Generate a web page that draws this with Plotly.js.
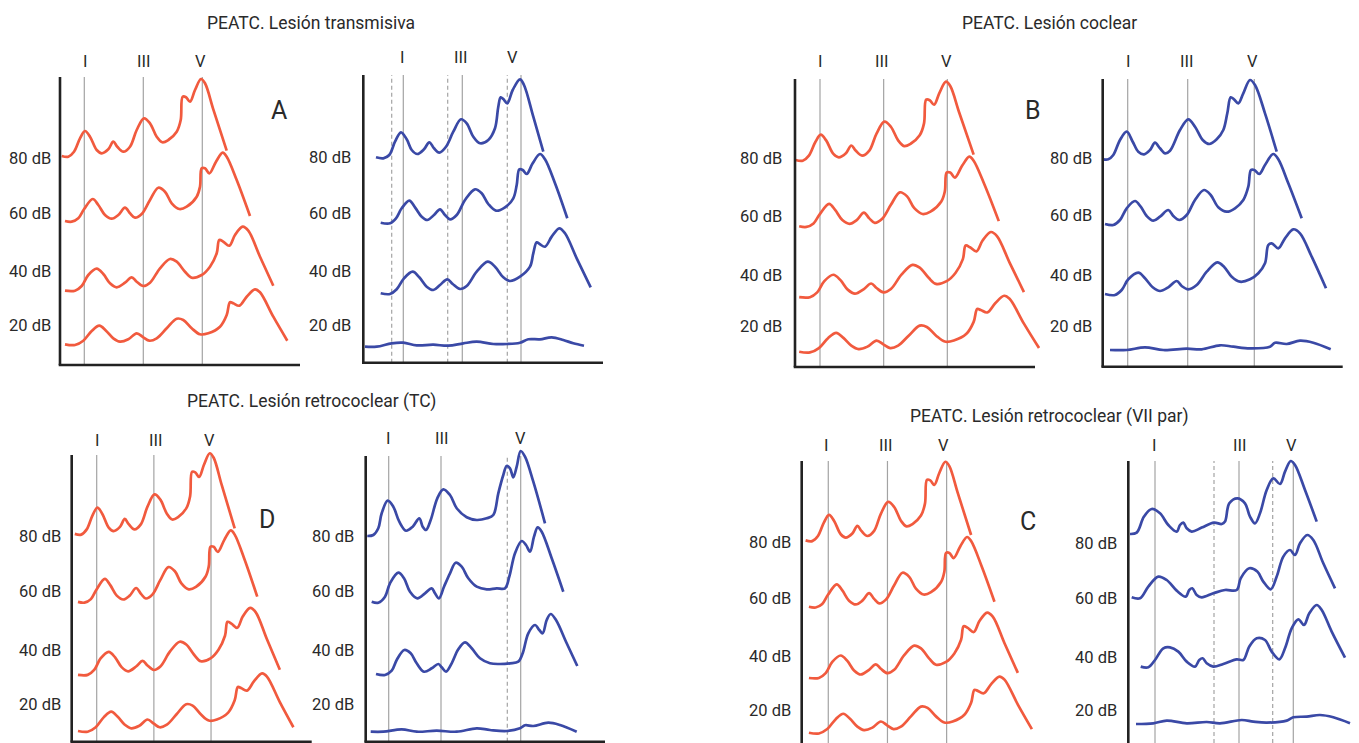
<!DOCTYPE html>
<html>
<head>
<meta charset="utf-8">
<script src="https://cdn.plot.ly/plotly-3.0.1.min.js"></script>
<style>html,body{margin:0;padding:0;background:#fff;}#chart{width:1359px;height:743px;}</style>
</head>
<body>
<div id="chart"></div>
<script>
// ---------- DATA (latency units on x, amplitude + offset units on y) ----------
const titles = ['PEATC. Lesión transmisiva', 'PEATC. Lesión coclear', 'PEATC. Lesión retrococlear (TC)', 'PEATC. Lesión retrococlear (VII par)'];
const panelLetters = ['A', 'B', 'D', 'C'];
const waveLabels = ['I', 'III', 'V'];
const dbLabels = ['80 dB', '60 dB', '40 dB', '20 dB'];

// Normal ear (red), same in every panel
const normX80 = [1.7,8.3,14,20,25,30,36.7,41.7,48.3,53.3,57.3,63.3,70,76.7,84,90,96.7,102.3,108.3,116.7,120.7,122.7,126,130,135,141,145,153.3,166.7];
const normY80 = [209,208.3,213.3,226.7,234,228.3,215,211.7,215.7,223.3,218.3,213.3,218.3,235,246.7,241.7,228.3,222.7,225,233.3,245,268.3,267.7,263.3,275,286,281.7,255.7,214.3];
const normX60 = [5,11.7,18.3,24,32.7,38.3,45,51.7,58.3,65,70,75,81.7,90,98.3,105,111.7,119.3,126.7,136.7,140,141.7,145,149.3,156,162.7,166.7,176.7,190];
const normY60 = [144,143.3,146.7,155.7,166,160,150,146.3,150,157.3,151.7,147.3,151,165,177.3,173.3,161.7,156,158.3,168.3,178.3,196.7,196.7,191.7,203.3,212.3,208.3,185,149];
const normX40 = [5,15,21.7,28.3,36.7,43.3,50,56.7,65,71.7,76.7,83.3,90,100,110,116.7,125,131.7,141.7,150,156.7,159.3,163.3,169.3,175,182.7,188.3,200,213.3];
const normY40 = [74.3,74.3,79,90,96.3,91,81.7,77.7,82.3,87.7,83.3,79,82.3,96.7,106,103.3,93.3,87.3,90,98.3,111.7,125,123.3,119.3,130,138.3,134.3,108.3,79.3];
const normX20 = [5,15,23.3,31.7,39.3,46,53.3,60,68.3,76.7,83.3,89.3,96.7,106.7,116.7,123.3,131.7,140,148.3,160,166.7,170,173.3,179.3,186.7,195,200,213.3,227.3];
const normY20 = [20.7,20,24.3,34,39.3,34.3,26.7,23.3,25.7,31.7,27.7,24.3,26.7,36.7,46.3,45,36.7,30.7,31.7,38.3,50,62.7,61.7,59.3,68.3,75.7,72.7,48.3,24.3];
const normLat = [24.3, 83.3, 142.3];

// A: transmisiva (blue)
const transX80 = [12.7,20,26,31.7,37.7,43.4,48.4,54,60.7,66,70.7,76,82.7,90,97.7,103.4,110,116.7,125,131.7,135,137.4,140,144,149.4,156.7,160.7,170,180];
const transY80 = [205.4,204.4,207.7,221,230.4,223.4,212.7,208.7,213.4,220.4,214.4,210,216,231,243.4,239.4,226,219.4,222.7,234.4,256,265.4,263.7,259.4,272.7,283.4,277.7,246,211];
const transX60 = [17.4,26.7,32.7,38.4,46,51.7,58.4,64,70.7,76.7,81.7,86.7,93.4,101.7,111.7,118.4,125,132.7,141.7,150,153.4,156,159.4,163.4,169.4,176.7,181.7,191.7,204];
const transY60 = [140,139.4,144.4,154.4,162,155.4,146,142.7,147.7,153.4,147.7,143.4,147.7,162.7,173.4,169.4,158.7,152,155.4,164.4,177.7,193.4,192.7,188.7,199.4,208.7,203.4,179.4,144.4];
const transX40 = [17.4,26.7,33.4,40.7,49.4,56,63.4,70,76.7,84,89.4,96.7,103.4,113.4,124.4,131.7,140,146.7,156.7,166.7,170,173.4,176.7,181.7,188.4,196,201.7,213.4,227.4];
const transY40 = [69.4,68.7,73.4,84.4,91,85.4,76,72.7,77.7,83.4,78.7,73.7,76.7,91,101,96,85.4,81.7,86,96,109.4,120.4,118.4,116,126,134.4,129.4,104.4,75.4];
const transX20 = [1.7,13.4,28.4,40,53.4,70,85,100,113.4,130,143.4,156.7,165,176.7,188.4,200,210,220.7];
const transY20 = [16,16,19.4,20,17.4,18,17,19.4,21,18.7,18.7,20,23.4,23.4,25.4,22.7,19.4,17];
const transLat = [40, 99, 157.7];
const transRef = [28.4, 84.4, 144];

// B: coclear (blue)
const coclX80 = [0.6,5.6,10.6,17.3,24,30,35.6,41.3,47.3,52.3,57.3,62.3,67.3,77.3,85.6,92.3,100,106.6,114,120.6,124.6,128,131.3,135.6,140.6,147.3,152.3,162.3,174];
const coclY80 = [207.4,207.4,211.7,226.7,235,225,215,212.4,216.7,224,218.4,213.4,216,236.7,247.4,240,226.7,222.7,227.4,236.7,253.4,269.4,267.4,263.4,273.4,286.7,281.7,253.4,215];
const coclX60 = [2.3,10.6,17.3,24,32.3,38,44,50.6,57.3,65.6,70.6,76.6,84,92.3,101.3,108,115.6,124,132.3,140.6,145.6,148.3,151.6,156.6,162.3,170.6,175.6,185.6,199];
const coclY60 = [142.7,141.7,146.7,158.4,165.7,160,150.7,146,150,156.7,150.7,146.7,151.7,166.7,176.7,171.7,159.4,155,158.4,166.7,180,196.7,196.7,192.7,201.7,212.7,207.4,183.4,148.4];
const coclX40 = [2.3,12.3,19,25.6,35.6,42.3,50,57.3,65.6,74,79,85.6,94,104,114.6,121.3,129,137.3,147.3,155.6,162.3,165.6,169,175.6,182.3,190.6,197.3,209,223.3];
const coclY40 = [72.7,71.7,76.7,87.4,94,88.4,79.4,75.7,79.4,85.7,80.7,77.4,81.7,95,104.4,100,90,85,87.4,93.4,103.4,121.7,123.4,118.4,128.4,137.4,133.4,110,78.4];
const coclX20 = [7.3,24,42.3,60.6,84,99,117.3,130.6,147.3,167.3,172.3,184,197.3,210.6,228];
const coclY20 = [16.7,16.7,19.4,16.7,18,17.4,21.4,20,18.4,20,24,22.7,26,24,17.4];
const coclLat = [25, 85, 151.6];

// D: retrococlear TC (blue)
const tcX80 = [1.6,7.6,12.6,16,22,27.6,33.6,40.3,47,53.6,57,60.3,65,71.6,77.6,84.3,91,101,111,121,127.6,132.6,137.6,141,144.3,147.6,151,155,159.3,167.6,179.3];
const tcY80 = [205.7,206.7,213.4,228.4,241,235,220,211,215,223.4,215,211.7,221.7,243.4,252.4,246.7,233.4,224.4,221.7,223.4,226.7,248.4,266.7,275.7,273.4,264.4,275,290.7,285,260,218.4];
const tcX60 = [6,12.6,19.3,24.3,32.6,38.3,44.3,51.6,59.3,66,69.3,73.3,78.3,84.3,90,96,102.6,111,121,131,139.3,143.6,149.3,156,160.3,164.3,168.3,172,176,186,197.6];
const tcY60 = [140,139,145,158.4,169,163.4,150,143.4,148.4,153.4,148.4,143.4,155,168.4,179,175,163.4,155,152.4,153.4,153.4,165,188.4,200.7,196.7,190,205,214.4,210,183.4,150];
const tcX40 = [10.3,19.3,26,31,38.6,45,51,58.3,66,72.6,76,80.3,86,92.6,99.3,106,114.3,124.3,134.3,144.3,152.6,157,162.6,169.3,173.6,177,181,185,190.3,201,211.6];
const tcY40 = [67.7,66.7,71,81.7,91.7,88.4,78.4,70,73.4,77.7,74.4,70,78.4,92.4,99.4,93.4,83.4,78.4,77.7,78.4,80,88.4,108.4,116.7,111.7,108.4,121.7,127.7,121.7,98.4,75.7];
const tcX20 = [5,17.6,36,51,71,91,111,124.3,141,154.3,159.3,167.6,182.6,194.3,211];
const tcY20 = [10,10,12.4,10,11,10,13.4,11.7,10.7,13.4,16.4,15.7,19,16.7,10];
const tcLat = [23, 75.3, 155];
const tcRef = [141.6];

// C: retrococlear VII par (blue)
const viiX80 = [1.7,8.4,15.7,23.4,31.7,40,48.4,51.7,55,58.4,63.4,73.4,85.7,93.4,96.7,101,109,116.7,121.7,126.7,131.7,138.4,145,151.7,156.7,162.4,166.7,176.7,188.4];
const viiY80 = [216,217.4,233.4,241,236.7,225,218.4,225,227.4,221.7,218.4,222.4,227.4,226,228.4,246.7,251.7,246.7,233.4,226.7,236.7,260,271.7,266,278.4,289,285,260,228.4];
const viiX60 = [3.4,11.7,20,30,38.4,48.4,57.4,61,64,68.4,73.4,85,96.7,108.4,112.4,121,129,135,142.4,148.4,155,161.7,166.7,171.7,179,185,195,206.7];
const viiY60 = [152.7,151.7,163.4,173.4,170,159.4,153.4,160,161.7,155,152.7,156.7,160,160,171.7,181.7,178.4,168.4,160.7,173.4,193.4,200,195,206.7,215,210,186.7,161.7];
const viiX40 = [12.4,20,26.7,35,41.7,50,58.4,66.7,71,74.4,78.4,85,95,108.4,115,121,128.4,136.7,143.4,151,156.7,163.4,170,175.7,181,188.4,193.4,203.4,216.7];
const viiY40 = [83.4,82.7,90,101.7,102.7,98.4,88.4,83.4,90,91.7,86.7,83.4,86,90.7,90,103.4,111.7,110,98.4,90.7,101.7,121.7,130.7,125,136.7,145,140,118.4,92.4];
const viiX20 = [7.7,25,38.4,58.4,78.4,91.7,113.4,125,138.4,158.4,165,178.4,191.7,205,221.7];
const viiY20 = [26,26.7,29.4,26.7,28,26.7,30,28.4,27.4,29.4,32.7,33.4,35,32.7,26.7];
const viiLat = [26.7, 110.7, 165];
const viiRef = [85.7, 144.4];

// ---------- STYLE / LAYOUT ----------
const W = 1359, H = 743;
const RED = '#F15A3E', BLUE = '#3A49A6';
const FONT = 'Roboto, Noto Sans, sans-serif';
const TXT = '#2a2a2a';
const fx = px => px / W;
const fy = px => 1 - px / H;

const normalSet = [[normX80,normY80],[normX60,normY60],[normX40,normY40],[normX20,normY20]];
const subplots = [
  {set: normalSet, color: RED, ox: 60, oy: 365, top: 77, right: 300, sx: 1, sy: 1, x0: 0, y0: 0,
   solid: normLat, dashed: [], labX: [85,143.3,200.3], labY: 61, dbX: 53, dbY: [158,213,272,325]},
  {set: [[transX80,transY80],[transX60,transY60],[transX40,transY40],[transX20,transY20]], color: BLUE,
   ox: 363.3, oy: 362.7, top: 75, right: 603, sx: 1, sy: 1, x0: 0, y0: 0,
   solid: transLat, dashed: transRef, labX: [402.3,460.7,512.7], labY: 58, dbX: 353.5, dbY: [157.5,213.3,271.7,325]},
  {set: normalSet, color: RED, ox: 795, oy: 367, top: 79, right: 1035, sx: 1.079, sy: 1.018, x0: 1.13, y0: 5.7,
   solid: normLat, dashed: [], labX: [820.7,881,946], labY: 62, dbX: 784.3, dbY: [158,216,275,327]},
  {set: [[coclX80,coclY80],[coclX60,coclY60],[coclX40,coclY40],[coclX20,coclY20]], color: BLUE,
   ox: 1102.7, oy: 366.7, top: 79, right: 1342.7, sx: 1, sy: 1, x0: 0, y0: 0,
   solid: coclLat, dashed: [], labX: [1128,1186,1252], labY: 62, dbX: 1094, dbY: [158,215,275,327]},
  {set: normalSet, color: RED, ox: 71.7, oy: 741.7, top: 455, right: 311.7, sx: 0.969, sy: 1.047, x0: -1.5, y0: 10.5,
   solid: normLat, dashed: [], labX: [97.3,155,209.3], labY: 440, dbX: 62.7, dbY: [536,591.7,650.7,704]},
  {set: [[tcX80,tcY80],[tcX60,tcY60],[tcX40,tcY40],[tcX20,tcY20]], color: BLUE,
   ox: 365.7, oy: 741.7, top: 456, right: 605, sx: 1, sy: 1, x0: 0, y0: 0,
   solid: tcLat, dashed: tcRef, labX: [388.7,441,520], labY: 438, dbX: 355.5, dbY: [536,591.7,650.7,704]},
  {set: normalSet, color: RED, ox: 801.7, oy: 750, top: 461, right: null, sx: 1.003, sy: 1.0215, x0: -2.2, y0: 3.8,
   solid: normLat, dashed: [], labX: [826.7,885,943.3], labY: 445, dbX: 792.7, dbY: [542.7,598.3,656.7,710]},
  {set: [[viiX80,viiY80],[viiX60,viiY60],[viiX40,viiY40],[viiX20,viiY20]], color: BLUE,
   ox: 1128.3, oy: 750, top: 461, right: null, sx: 1, sy: 1, x0: 0, y0: 0,
   solid: viiLat, dashed: viiRef, labX: [1154,1239,1291.7], labY: 446, dbX: 1119.3, dbY: [543.3,598.3,657.3,710.7]}
];

const titlePos = [[311,23],[1049,23],[311.7,401.7],[1049,416.7]];
const letterPos = [[279,110],[1033,110],[266.7,519.5],[1028.3,521.7]];

const traces = [], shapes = [], annotations = [];
const layout = {
  width: W, height: H, margin: {l:0, r:0, t:0, b:0},
  paper_bgcolor: '#fff', plot_bgcolor: 'rgba(0,0,0,0)', showlegend: false,
  font: {family: FONT, color: TXT}, hovermode: false
};

subplots.forEach((s, i) => {
  const n = i === 0 ? '' : String(i + 1);
  const xa = 'x' + n, ya = 'y' + n;
  const dL = s.ox - 8, dR = Math.min(s.ox + 255, W), dT = s.top - 12, dB = Math.min(s.oy + 6, H);
  const axBottom = Math.min(s.oy, H);
  layout['xaxis' + n] = {domain: [fx(dL), fx(dR)], range: [s.x0 + (dL - s.ox) / s.sx, s.x0 + (dR - s.ox) / s.sx],
    anchor: ya, visible: false, fixedrange: true};
  layout['yaxis' + n] = {domain: [fy(dB), fy(dT)], range: [s.y0 + (s.oy - dB) / s.sy, s.y0 + (s.oy - dT) / s.sy],
    anchor: xa, visible: false, fixedrange: true};

  s.set.forEach(([xs, ys]) => {
    traces.push({type: 'scatter', mode: 'lines', x: xs, y: ys, xaxis: xa, yaxis: ya,
      line: {color: s.color, width: 2.7, shape: 'spline', smoothing: 1}, hoverinfo: 'skip'});
  });

  s.solid.forEach(v => shapes.push({type: 'line', layer: 'below', xref: xa, yref: 'paper', x0: v, x1: v,
    y0: fy(axBottom), y1: fy(s.top), line: {color: '#a3a3a3', width: 1.2}}));
  s.dashed.forEach(v => shapes.push({type: 'line', layer: 'below', xref: xa, yref: 'paper', x0: v, x1: v,
    y0: fy(axBottom), y1: fy(s.top), line: {color: '#a3a3a3', width: 1.2, dash: '4px,3px'}}));

  // axes lines
  shapes.push({type: 'line', xref: 'paper', yref: 'paper', x0: fx(s.ox), x1: fx(s.ox), y0: fy(axBottom), y1: fy(s.top),
    line: {color: '#222', width: 2.6}});
  if (s.right !== null) {
    shapes.push({type: 'line', xref: 'paper', yref: 'paper', x0: fx(s.ox - 1.3), x1: fx(s.right), y0: fy(s.oy), y1: fy(s.oy),
      line: {color: '#222', width: 2.6}});
  }

  waveLabels.forEach((t, k) => annotations.push({text: t, xref: 'paper', yref: 'paper', x: fx(s.labX[k]), y: fy(s.labY),
    xanchor: 'center', yanchor: 'middle', showarrow: false, font: {family: FONT, size: 16.5, color: TXT}}));
  dbLabels.forEach((t, k) => annotations.push({text: t, xref: 'paper', yref: 'paper', x: fx(s.dbX), y: fy(s.dbY[k]),
    xanchor: 'right', yanchor: 'middle', showarrow: false, font: {family: FONT, size: 16.5, color: TXT}}));
});

titles.forEach((t, k) => annotations.push({text: t, xref: 'paper', yref: 'paper', x: fx(titlePos[k][0]), y: fy(titlePos[k][1]),
  xanchor: 'center', yanchor: 'middle', showarrow: false, font: {family: FONT, size: 17.5, color: TXT}}));
panelLetters.forEach((t, k) => annotations.push({text: t, xref: 'paper', yref: 'paper', x: fx(letterPos[k][0]), y: fy(letterPos[k][1]),
  xanchor: 'center', yanchor: 'middle', showarrow: false, font: {family: FONT, size: 25, color: TXT}}));

layout.shapes = shapes;
layout.annotations = annotations;
Plotly.newPlot('chart', traces, layout, {staticPlot: true, displayModeBar: false});
</script>
</body>
</html>
